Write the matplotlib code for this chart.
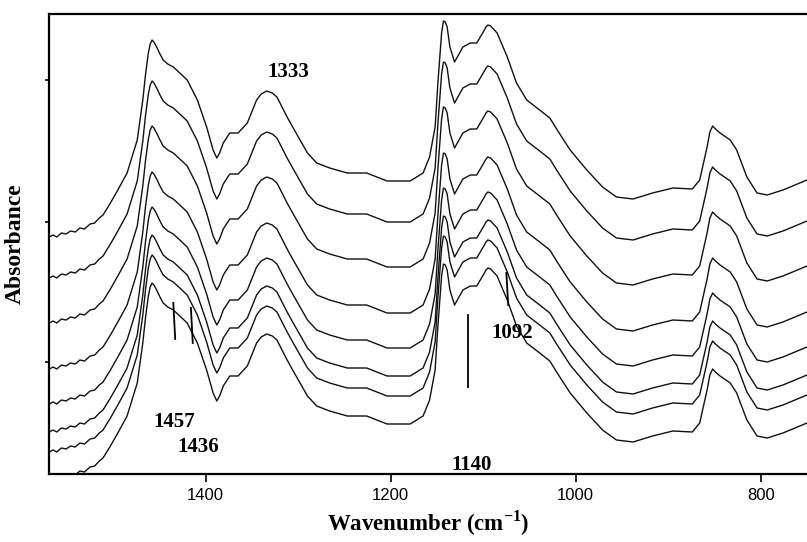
import numpy as np
import matplotlib.pyplot as plt

plt.rcParams['mathtext.fontset'] = 'custom'
plt.rcParams['mathtext.rm'] = 'Liberation Serif:bold'
plt.rcParams['mathtext.bf'] = 'Liberation Serif:bold'

# wavenumber (cm-1) and absorbance of the top spectrum, relative to its level at 1200 cm-1
wavenumber = [1569, 1565, 1561, 1556, 1551, 1546, 1541, 1536, 1531, 1525, 1520, 1515,
              1511, 1507, 1503, 1495, 1485, 1474, 1468, 1465, 1462, 1460, 1458, 1456,
              1453, 1450, 1446, 1441, 1435, 1428, 1420, 1409, 1399, 1392, 1388, 1385,
              1381, 1374, 1365, 1355, 1345, 1340, 1334, 1328, 1323,
              1312, 1306, 1290, 1280, 1266, 1247, 1226, 1204, 1179, 1165, 1158, 1152,
              1149, 1145, 1143, 1141, 1139, 1136, 1131, 1122, 1114, 1107, 1100, 1097,
              1095, 1092, 1089, 1085,
              1074, 1064, 1053, 1039, 1028, 1020, 1006, 988, 971, 956, 938, 917,
              895, 874, 866, 858, 855, 852, 849, 844, 833, 826, 815, 804, 793, 776, 750]
absorb = [-0.55, -0.53, -0.55, -0.51, -0.52, -0.49, -0.50, -0.46, -0.47, -0.42, -0.41, -0.36,
          -0.33, -0.27, -0.21, -0.08, 0.09, 0.42, 0.82, 1.08, 1.29, 1.38, 1.42, 1.40,
          1.35, 1.29, 1.22, 1.18, 1.15, 1.09, 1.02, 0.82, 0.55, 0.32, 0.24, 0.29,
          0.39, 0.49, 0.49, 0.59, 0.82, 0.88, 0.91, 0.89, 0.85,
          0.65, 0.55, 0.29, 0.19, 0.14, 0.09, 0.09, 0.01, 0.01, 0.09, 0.25, 0.55,
          0.99, 1.49, 1.61, 1.60, 1.55, 1.35, 1.20, 1.35, 1.39, 1.39, 1.50, 1.55,
          1.57, 1.56, 1.53, 1.49,
          1.25, 0.99, 0.82, 0.72, 0.64, 0.52, 0.32, 0.12, -0.05, -0.15, -0.17, -0.11,
          -0.06, -0.07, 0.02, 0.35, 0.50, 0.56, 0.53, 0.49, 0.42, 0.32, 0.05, -0.11, -0.13, -0.08, 0.02]

# vertical offsets of the 8 stacked spectra (top to bottom)
offsets = [2.92, 2.51, 2.06, 1.60, 1.25, 0.97, 0.77, 0.49]

# band labels: text, x, y
labels = ['1333', '1457', '1436', '1140', '1092']
label_x = [1311, 1434, 1408, 1113, 1069]
label_y = [4.02, 0.52, 0.27, 0.09, 1.41]

# marker lines: (x0, y0, x1, y1)
marks = [(1435, 1.71, 1433, 1.35), (1416, 1.66, 1414, 1.31),
         (1117, 1.59, 1117, 0.87), (1075, 2.01, 1073, 1.69)]

serif = ['Liberation Serif', 'DejaVu Serif']

fig = plt.figure(figsize=(8.07, 5.42), dpi=100)
ax = fig.add_axes([49/807, 68/542, 758/807, 460/542])

wn = np.array(wavenumber)
ab = np.array(absorb)
for off in offsets:
    ax.plot(wn, ab + off, color='#111111', lw=1.0)

for x0, y0, x1, y1 in marks:
    ax.plot([x0, x1], [y0, y1], color='black', lw=1.3)

for t, x, y in zip(labels, label_x, label_y):
    ax.text(x, y, t, ha='center', va='center', fontsize=15, fontweight='bold', family=serif)

ax.set_xlim(1569.4, 750)
ax.set_ylim(0, 4.6)
ax.set_xticks([1400, 1200, 1000, 800])
ax.set_yticks([3.94, 2.52, 1.12])
ax.set_yticklabels([])
ax.tick_params(axis='x', length=6, width=1.2, labelsize=12, pad=4)
ax.tick_params(axis='y', length=3, width=1.2)
for lab in ax.get_xticklabels():
    lab.set_family(['Liberation Sans', 'DejaVu Sans'])
for s in ['left', 'top', 'bottom']:
    ax.spines[s].set_linewidth(1.6)
ax.spines['right'].set_visible(False)

ax.set_xlabel('Wavenumber (cm$^{-1}$)', fontsize=16.5, fontweight='bold', family=serif, labelpad=4)
ax.set_ylabel('Absorbance', fontsize=17, fontweight='bold', family=serif, labelpad=10)

plt.savefig('out.png', dpi=100)
